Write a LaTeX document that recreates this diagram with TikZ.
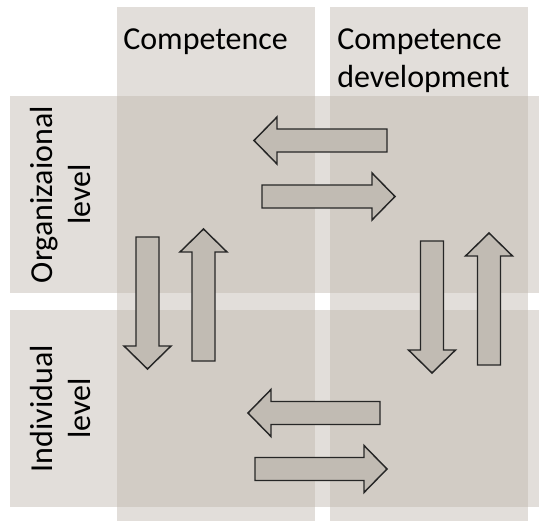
\documentclass[tikz,border=0pt]{standalone}
\usepackage{fontspec}
\setmainfont{Carlito}
\definecolor{bandgray}{RGB}{190,182,172}
\definecolor{arrowgray}{RGB}{193,187,179}
\tikzset{
  band/.style={fill=bandgray,fill opacity=0.45},
  blockarrow/.style={draw=black!85,line width=1.1pt,fill=arrowgray,line join=miter},
  colhead/.style={inner sep=0pt,anchor=north west,align=left,font=\fontsize{24}{28.5}\selectfont},
  rowhead/.style={inner sep=0pt,anchor=north,rotate=90,align=center,font=\fontsize{24}{28.5}\selectfont}
}
\begin{document}
\begin{tikzpicture}[x=0.75pt,y=-0.75pt]
\useasboundingbox (0,0) rectangle (539,521);
%\draw[help lines,step=50] (0,0) grid (539,521);
\foreach \l/\r in {117/315, 330/528}
  \fill[band] (\l,7) rectangle (\r,521);
\foreach \t/\b in {96/293, 310/507}
  \fill[band] (10,\t) rectangle (539,\b);

\node[colhead] (competence) at (123,28) {Competence};
\node[colhead] (development) at (337,28) {Competence\\development};
\node[rowhead] (orglevel) at (30,194.5) {Organizaional\\level};
\node[rowhead] (indlevel) at (30,408.5) {Individual\\level};

\foreach \f/\s/\y in {387/254/140.5, 262/395/196.5, 380/248/413, 255/387/469}{
  \pgfmathsetmacro\h{\s-23*sign(\s-\f)}
  \draw[blockarrow] (\f,\y-11.5) -- (\h,\y-11.5) -- (\h,\y-23.5) -- (\s,\y) -- (\h,\y+23.5) -- (\h,\y+11.5) -- (\f,\y+11.5) -- cycle;
}
\foreach \x/\f/\s in {147.5/237/369, 203.5/361/229, 432/241/373, 489/365/233}{
  \pgfmathsetmacro\h{\s-23*sign(\s-\f)}
  \draw[blockarrow] (\x-11.5,\f) -- (\x-11.5,\h) -- (\x-23.5,\h) -- (\x,\s) -- (\x+23.5,\h) -- (\x+11.5,\h) -- (\x+11.5,\f) -- cycle;
}
\end{tikzpicture}
\end{document}
